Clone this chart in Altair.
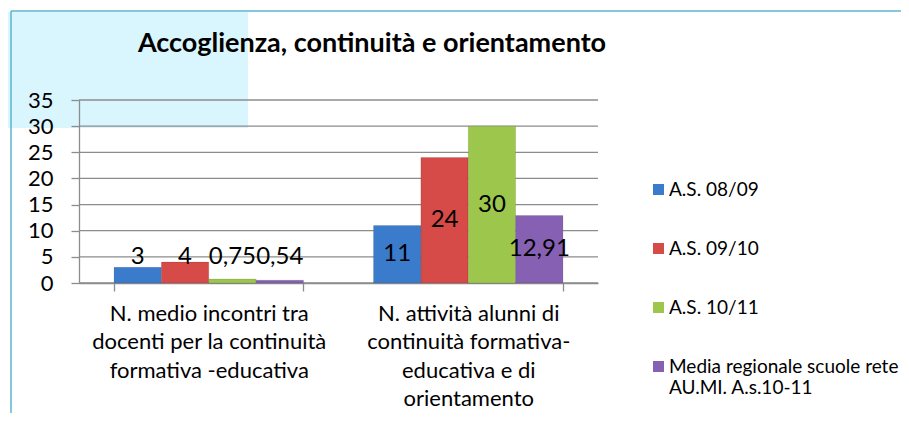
import altair as alt
import pandas as pd

# ---- data ----
categories = [
    "N. medio incontri tra\ndocenti per la continuità\nformativa -educativa",
    "N. attività alunni di\ncontinuità formativa-\neducativa e di\norientamento",
]
series = ["A.S. 08/09", "A.S. 09/10", "A.S. 10/11",
          "Media regionale scuole rete\nAU.MI. A.s.10-11"]
values_0809 = [3, 11]
values_0910 = [4, 24]
values_1011 = [0.75, 30]
values_media = [0.54, 12.91]
colors = ["#3B7BCB", "#D64A47", "#9CC64C", "#8560B3"]
y_ticks = [0, 5, 10, 15, 20, 25, 30, 35]
title_text = "Accoglienza, continuità e orientamento"

rows = []
for s, vals in zip(series, [values_0809, values_0910, values_1011, values_media]):
    for c, v in zip(categories, vals):
        rows.append({"categoria": c, "serie": s, "valore": v,
                     "etichetta": str(v).replace(".", ",")})
df = pd.DataFrame(rows)
grid_df = pd.DataFrame({"valore": y_ticks})
one = pd.DataFrame({"k": [0]})
title_df = pd.DataFrame({"titolo": [title_text]})

W, H = 519, 183
FONT = "Lato"
GRAY = "#8C8C8C"

yscale = alt.Scale(domain=[0, 35])
yaxis = alt.Axis(values=y_ticks, title=None, grid=False, tickSize=8, labelPadding=18,
                 labelFontSize=22, labelFont=FONT, labelColor="black",
                 domainColor=GRAY, tickColor=GRAY, domainWidth=1.3, tickWidth=1.3,
                 zindex=1)
x_enc = alt.X("categoria:N", sort=categories,
              scale=alt.Scale(paddingInner=0.27, paddingOuter=0.135),
              axis=alt.Axis(title=None, labelAngle=0,
                            labelExpr="split(datum.label, '\\n')",
                            labelFontSize=22, labelFont=FONT, labelColor="black",
                            labelLineHeight=28.5, labelLimit=400, labelPadding=12,
                            labelBaseline="top",
                            tickBand="extent", tickSize=8, tickColor=GRAY,
                            domainColor=GRAY, domainWidth=1.3, tickWidth=1.3))
xoff = alt.XOffset("serie:N", sort=series)

deco_rect = alt.Chart(one).mark_rect(color="#D9F5FD").encode(
    x=alt.value(-72), x2=alt.value(169), y=alt.value(-88), y2=alt.value(28))
border_top = alt.Chart(one).mark_rule(color="#5AB4CC", strokeWidth=1.5).encode(
    x=alt.value(-68), x2=alt.value(830), y=alt.value(-89))
border_left = alt.Chart(one).mark_rule(color="#5AB4CC", strokeWidth=1.5).encode(
    x=alt.value(-68), y=alt.value(-89), y2=alt.value(330))

title_mark = alt.Chart(title_df).mark_text(
    font=FONT, fontSize=27, fontWeight="bold", color="black",
    align="center", baseline="alphabetic").encode(
    text="titolo:N", x=alt.value(293), y=alt.value(-48))

grid = alt.Chart(grid_df).mark_rule(color=GRAY, strokeWidth=1.3).encode(
    y=alt.Y("valore:Q", scale=yscale, axis=yaxis))

bars = alt.Chart(df).mark_bar(stroke="#00000022", strokeWidth=0.8).encode(
    x=x_enc, xOffset=xoff,
    y=alt.Y("valore:Q", scale=yscale, axis=yaxis),
    color=alt.Color("serie:N", sort=series,
                    scale=alt.Scale(domain=series, range=colors),
                    legend=alt.Legend(title=None, orient="none", legendX=570, legendY=80,
                                      symbolType="square", symbolSize=121,
                                      symbolStrokeWidth=0, labelFontSize=19,
                                      labelFont=FONT, labelColor="black", labelOffset=1,
                                      rowPadding=39, labelLimit=400, padding=0,
                                      labelExpr="split(datum.label, '\\n')")),
)

labels = alt.Chart(df).transform_calculate(
    pos="max(datum.valore / 2, 5)"
).mark_text(fontSize=24, font=FONT, color="black", baseline="middle").encode(
    x=x_enc, xOffset=xoff,
    y=alt.Y("pos:Q", scale=yscale, axis=yaxis),
    text="etichetta:N",
)

chart = alt.layer(deco_rect, border_top, border_left, title_mark, grid, bars, labels).properties(
    width=W, height=H,
    autosize=alt.AutoSizeParams(type="none"),
    padding={"left": 71, "top": 92, "right": 303, "bottom": 130},
).configure_view(stroke=None)

chart.save("out.html", embed_options={"renderer": "svg", "actions": False})
